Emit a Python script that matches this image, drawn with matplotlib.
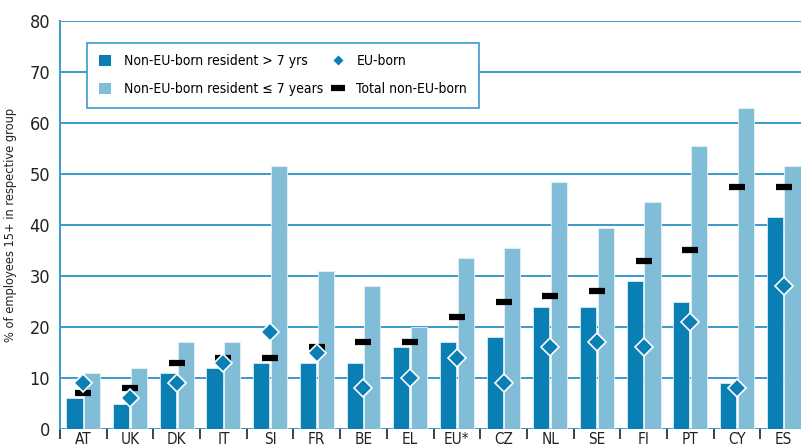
import matplotlib.pyplot as plt
from matplotlib.lines import Line2D
from matplotlib.patches import Patch
import numpy as np

countries = ['AT', 'UK', 'DK', 'IT', 'SI', 'FR', 'BE', 'EL', 'EU*', 'CZ',
             'NL', 'SE', 'FI', 'PT', 'CY', 'ES']
long_res = [6, 5, 11, 12, 13, 13, 13, 16, 17, 18, 24, 24, 29, 25, 9, 41.5]
short_res = [11, 12, 17, 17, 51.5, 31, 28, 20, 33.5, 35.5, 48.5, 39.5, 44.5, 55.5, 63, 51.5]
eu_born = [9, 6, 9, 13, 19, 15, 8, 10, 14, 9, 16, 17, 16, 21, 8, 28]
total_non_eu = [7, 8, 13, 14, 14, 16, 17, 17, 22, 25, 26, 27, 33, 35, 47.5, 47.5]

dark = '#0A7FB3'
light = '#82BDD8'
grid_col = '#3A9ACB'

plt.rcParams['font.family'] = ['DejaVu Sans']
plt.rcParams['font.stretch'] = 'condensed'

fig = plt.figure(figsize=(8.01, 4.48), dpi=100)
ax = fig.add_axes([60 / 801, 19 / 448, 747 / 801, 408 / 448])

x = np.arange(len(countries))
ax.bar(x + 0.31, long_res, width=0.345, color=dark, edgecolor='#d8ecf5', linewidth=0.6, zorder=3)
ax.bar(x + 0.69, short_res, width=0.345, color=light, edgecolor='#e6f2f8', linewidth=0.6, zorder=3)
ax.plot(x + 0.5, total_non_eu, ls='none', marker='_', ms=11, mew=4.5, color='black', zorder=4)
ax.plot(x + 0.5, eu_born, ls='none', marker='D', ms=9, mfc=dark, mec='white', mew=1.2, zorder=5)

ax.set_xlim(0, len(countries))
ax.set_ylim(0, 80)
ax.set_yticks(range(0, 81, 10))
ax.yaxis.grid(True, color=grid_col, linewidth=1.4, zorder=0)
ax.set_axisbelow(True)
for s in ['top', 'right', 'bottom']:
    ax.spines[s].set_visible(False)
ax.spines['left'].set_color(grid_col)
ax.spines['left'].set_linewidth(1.4)
ax.tick_params(axis='y', length=0, labelsize=13, pad=7, colors='#222222')

ax.set_xticks(x + 0.5)
ax.set_xticklabels(countries)
ax.set_xticks(np.arange(0, len(countries) + 1), minor=True)
ax.tick_params(axis='x', which='major', length=0, labelsize=11, pad=2, colors='#222222')
ax.tick_params(axis='x', which='minor', length=7, width=1.2, color='#222222', direction='out')

ax.set_ylabel('% of employees 15+ in respective group', fontsize=9.2, color='#222222', labelpad=9)

handles = [Patch(facecolor=dark, edgecolor='none'),
           Patch(facecolor=light, edgecolor='none'),
           Line2D([], [], ls='none', marker='D', ms=6.5, mfc=dark, mec='white'),
           Line2D([], [], ls='none', marker='_', ms=10, mew=4.5, color='black')]
labels = ['Non-EU-born resident > 7 yrs', 'Non-EU-born resident \u2264 7 years',
          'EU-born', 'Total non-EU-born']
leg = ax.legend(handles, labels, ncol=2, loc='upper left', bbox_to_anchor=(0.036, 0.947),
                borderaxespad=0, fontsize=10, frameon=True, fancybox=False,
                handlelength=0.9, handleheight=0.9, handletextpad=0.9, columnspacing=0.6,
                labelspacing=1.0, borderpad=0.85)
leg.get_frame().set_edgecolor(grid_col)
leg.get_frame().set_linewidth(1.2)
leg.get_frame().set_alpha(1)
leg.set_zorder(10)

fig.savefig('out.png', dpi=100)
